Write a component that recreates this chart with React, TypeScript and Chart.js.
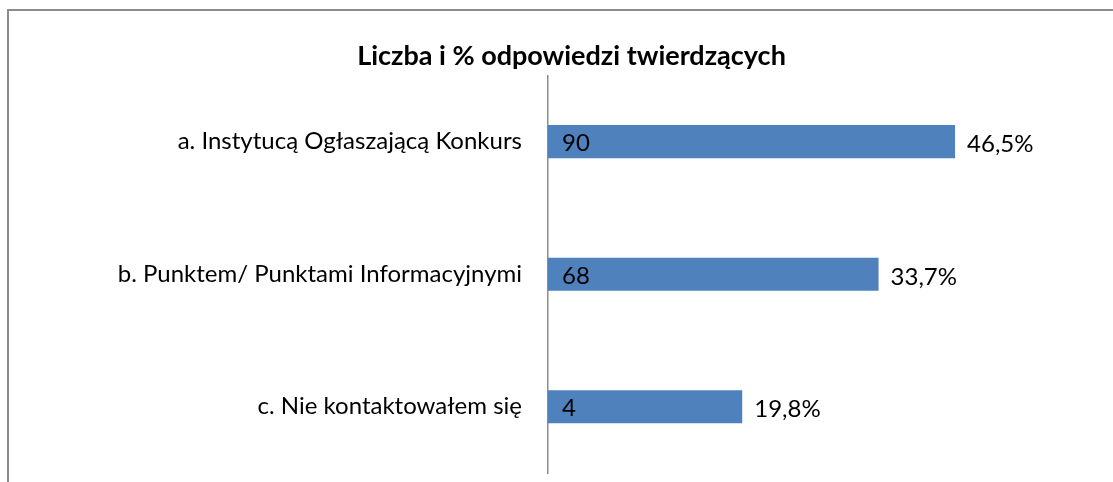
import React, { useEffect, useRef } from "react";
import { Chart, registerables } from "chart.js";

Chart.register(...registerables);

const categories = [
  "a. Instytucą Ogłaszającą Konkurs",
  "b. Punktem/ Punktami Informacyjnymi",
  "c. Nie kontaktowałem się",
];
const barValues = [41.5, 33.7, 19.8];
const counts = [90, 68, 4];
const percentLabels = ["46,5%", "33,7%", "19,8%"];
const title = "Liczba i % odpowiedzi twierdzących";

const FONT = "Lato, 'Open Sans', sans-serif";

const labelPlugin = {
  id: "barLabels",
  afterDatasetsDraw(chart: any) {
    const ctx = chart.ctx;
    const meta = chart.getDatasetMeta(0);
    ctx.save();
    ctx.fillStyle = "#000";
    ctx.textBaseline = "middle";
    ctx.textAlign = "left";
    meta.data.forEach((bar: any, i: number) => {
      ctx.font = `24px ${FONT}`;
      ctx.fillText(String(counts[i]), bar.base + 14, bar.y + 2);
      ctx.fillText(percentLabels[i], bar.x + 12, bar.y + 3);
    });
    ctx.restore();
  },
};

export default function App() {
  const ref = useRef<HTMLCanvasElement>(null);
  useEffect(() => {
    if (!ref.current) return;
    const chart = new Chart(ref.current, {
      type: "bar",
      data: {
        labels: categories,
        datasets: [
          {
            data: barValues,
            backgroundColor: "#4F81BD",
            barPercentage: 0.5,
            categoryPercentage: 0.5,
          },
        ],
      },
      options: {
        indexAxis: "y",
        responsive: false,
        animation: false,
        devicePixelRatio: 1,
        layout: { padding: { left: 30, right: 0, top: 0, bottom: 9 } },
        plugins: {
          legend: { display: false },
          tooltip: { enabled: false },
          title: {
            display: true,
            text: title,
            color: "#000",
            font: { family: FONT, size: 27, weight: "bold" },
            padding: { top: 40, bottom: 3 },
          },
        },
        scales: {
          x: { display: false, min: 0, max: 57.6 },
          y: {
            position: "left",
            grid: { display: false, drawTicks: false },
            border: { display: true, color: "#8c8c8c", width: 1.5 },
            ticks: {
              color: "#000",
              font: { family: FONT, size: 24 },
              padding: 26,
            },
            afterFit: (s: any) => {
              s.width = 518;
              s.paddingTop = 0;
              s.paddingBottom = 0;
            },
          },
        },
      },
      plugins: [labelPlugin],
    });
    return () => chart.destroy();
  }, []);

  return (
    <div
      style={{
        position: "fixed",
        left: 0,
        top: 0,
        width: 1113,
        height: 482,
        overflow: "hidden",
        background: "#fff",
      }}
    >
      <div
        style={{
          position: "absolute",
          left: 7,
          top: 9,
          width: 1300,
          height: 700,
          borderLeft: "2px solid #8c8c8c",
          borderTop: "2px solid #8c8c8c",
        }}
      />
      <canvas
        ref={ref}
        width={1113}
        height={482}
        style={{ position: "absolute", left: 0, top: 0, width: 1113, height: 482 }}
      />
    </div>
  );
}
